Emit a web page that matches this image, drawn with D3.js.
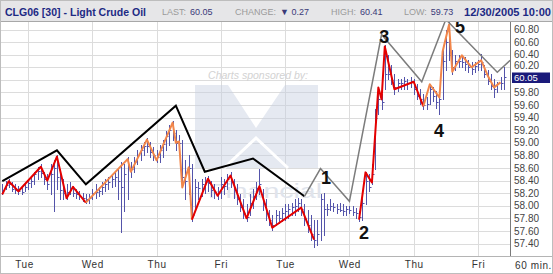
<!DOCTYPE html>
<html>
<head>
<meta charset="utf-8">
<script src="https://cdn.jsdelivr.net/npm/d3@7"></script>
<style>
  body { margin: 0; background: #fff; }
  svg { display: block; font-family: "Liberation Sans", Arial, sans-serif; }
</style>
</head>
<body>
<svg id="chart" width="553" height="274"></svg>
<script>
// day labels and the bar index where each session starts
const days = ['Tue', 'Wed', 'Thu', 'Fri', 'Tue', 'Wed', 'Thu', 'Fri'];
const dayStart = [8, 28, 48, 68, 88, 108, 128, 148];
const yTicks = [60.8, 60.6, 60.4, 60.2, 60.0, 59.8, 59.6, 59.4, 59.2, 59.0,
  58.8, 58.6, 58.4, 58.2, 58.0, 57.8, 57.6, 57.4];
const lastPrice = 60.05;

// 60 min bars
const highs = [
  58.34, 58.39, 58.42, 58.37, 58.34, 58.32, 58.29, 58.35, 58.42, 58.45,
  58.54, 58.61, 58.66, 58.54, 58.50, 58.66, 58.73, 58.80, 58.58, 58.42,
  58.34, 58.37, 58.32, 58.26, 58.23, 58.21, 58.18, 58.18, 58.26, 58.34,
  58.29, 58.37, 58.42, 58.45, 58.50, 58.54, 58.58, 58.70, 58.66, 58.77,
  58.70, 58.77, 58.89, 58.97, 59.02, 59.07, 59.02, 58.93, 58.89, 58.97,
  59.05, 59.18, 59.29, 59.34, 59.21, 59.13, 59.05, 58.73, 58.81, 58.66,
  58.42, 58.37, 58.42, 58.45, 58.48, 58.39, 58.34, 58.29, 58.45, 58.42,
  58.50, 58.53, 58.42, 58.34, 58.18, 58.10, 58.02, 58.18, 58.26, 58.37,
  58.58, 58.26, 58.10, 57.94, 57.86, 57.94, 57.91, 57.97, 58.02, 58.02,
  58.05, 58.10, 58.13, 58.10, 58.02, 57.94, 57.86, 57.78, 57.78, 58.18,
  58.21, 58.02, 58.10, 58.05, 58.02, 58.05, 58.02, 57.99, 58.00, 57.99,
  57.97, 57.91, 58.10, 58.54, 58.50, 58.66, 59.53, 59.88, 59.77, 60.55,
  60.40, 60.24, 60.09, 60.01, 60.01, 60.04, 60.01, 60.04, 60.01, 59.93,
  59.85, 59.77, 59.72, 59.93, 59.88, 59.82, 59.77, 60.48, 60.80, 60.93,
  60.48, 60.40, 60.40, 60.39, 60.36, 60.32, 60.29, 60.29, 60.32, 60.41,
  60.24, 60.16, 60.09, 60.01, 59.97, 60.04, 60.20
];
const lows = [
  58.18, 58.26, 58.29, 58.23, 58.21, 58.19, 58.18, 58.23, 58.26, 58.29,
  58.35, 58.42, 58.45, 58.34, 58.26, 58.18, 57.92, 58.26, 58.10, 58.10,
  58.10, 58.18, 58.16, 58.12, 58.10, 58.07, 58.04, 58.05, 58.10, 58.13,
  58.16, 58.19, 58.23, 58.26, 58.29, 58.32, 58.10, 57.58, 57.91, 58.10,
  58.45, 58.54, 58.66, 58.73, 58.81, 58.86, 58.77, 58.73, 58.69, 58.70,
  58.77, 58.89, 58.97, 59.05, 58.89, 58.89, 58.29, 58.10, 58.18, 57.75,
  57.91, 58.10, 58.16, 58.21, 58.23, 58.16, 58.13, 58.10, 58.13, 58.18,
  58.26, 58.29, 58.13, 58.02, 57.91, 57.81, 57.75, 57.86, 57.97, 58.10,
  58.18, 57.94, 57.78, 57.70, 57.62, 57.69, 57.72, 57.75, 57.78, 57.81,
  57.85, 57.86, 57.91, 57.86, 57.70, 57.59, 57.46, 57.34, 57.38, 57.46,
  57.54, 57.86, 57.94, 57.91, 57.89, 57.91, 57.86, 57.86, 57.88, 57.85,
  57.81, 57.75, 57.78, 58.02, 58.23, 58.34, 58.58, 59.45, 59.53, 59.85,
  60.01, 59.93, 59.77, 59.82, 59.85, 59.85, 59.85, 59.88, 59.77, 59.69,
  59.61, 59.53, 59.53, 59.61, 59.66, 59.56, 59.45, 59.69, 60.16, 60.32,
  60.09, 60.16, 60.20, 60.20, 60.16, 60.13, 60.09, 60.13, 60.16, 60.16,
  60.04, 59.93, 59.85, 59.73, 59.80, 59.85, 59.85
];
const closes = [
  58.25, 58.33, 58.34, 58.27, 58.25, 58.24, 58.22, 58.30, 58.36, 58.40,
  58.50, 58.55, 58.52, 58.42, 58.35, 58.50, 58.60, 58.45, 58.25, 58.20,
  58.22, 58.28, 58.20, 58.18, 58.15, 58.12, 58.10, 58.12, 58.20, 58.22,
  58.24, 58.30, 58.34, 58.38, 58.42, 58.46, 58.40, 58.30, 58.50, 58.60,
  58.58, 58.70, 58.80, 58.88, 58.95, 58.95, 58.85, 58.80, 58.78, 58.88,
  58.98, 59.10, 59.20, 59.15, 59.00, 59.00, 58.45, 58.40, 58.60, 57.85,
  58.30, 58.28, 58.34, 58.38, 58.36, 58.25, 58.22, 58.20, 58.35, 58.32,
  58.42, 58.40, 58.25, 58.10, 57.98, 57.88, 57.82, 58.05, 58.15, 58.28,
  58.35, 58.05, 57.88, 57.78, 57.70, 57.85, 57.80, 57.88, 57.92, 57.95,
  57.98, 58.00, 58.04, 57.95, 57.80, 57.70, 57.55, 57.45, 57.55, 58.10,
  57.95, 57.95, 58.00, 57.98, 57.95, 57.94, 57.92, 57.95, 57.93, 57.90,
  57.88, 57.82, 58.05, 58.40, 58.30, 58.50, 59.40, 59.70, 59.65, 60.10,
  60.10, 60.00, 59.88, 59.95, 59.95, 59.98, 59.95, 59.98, 59.85, 59.75,
  59.70, 59.60, 59.62, 59.85, 59.75, 59.65, 59.70, 60.30, 60.60, 60.40,
  60.20, 60.30, 60.30, 60.28, 60.25, 60.20, 60.18, 60.22, 60.25, 60.28,
  60.10, 59.98, 59.90, 59.85, 59.95, 59.95, 60.05
];

// zigzag pivots [bar index, price]
const zigRedA = [[0, 58.18], [2, 58.39], [5, 58.23], [12, 58.62], [14, 58.40], [17, 58.78], [20, 58.12], [22, 58.30], [26, 58.05]];
const zigOrangeB = [[26, 58.05], [39, 58.74], [40, 58.54], [45, 59.05], [48, 58.72], [53, 59.32], [54, 59.00], [55, 59.02], [56, 58.29], [58, 58.61], [59, 57.78]];
const zigRedC = [[59, 57.78], [64, 58.43], [67, 58.16], [71, 58.48], [76, 57.80], [80, 58.31], [84, 57.65], [93, 57.97], [97, 57.46]];
const zigRedD = [[111, 57.78], [113, 58.53], [115, 58.37], [117, 59.88], [118, 59.69], [119, 60.53], [122, 59.85], [128, 59.97], [131, 59.58]];
const zigOrangeE = [[131, 59.58], [133, 59.93], [136, 59.72], [137, 60.45], [139, 60.88], [140, 60.13], [143, 60.39], [146, 60.20], [149, 60.31], [151, 60.07], [153, 59.88], [155, 59.96]];

// wave lines
const waveBlack = [[0, 58.39], [17, 58.88], [26, 58.34], [54, 59.59], [63, 58.54], [78, 58.75], [94, 58.15]];
const waveGray = [[94, 58.15], [99, 58.59], [108, 58.07], [118, 60.72], [130.5, 59.97], [138, 60.96], [154, 60.12], [158, 60.31]];
const waveNames = ['1', '2', '3', '4', '5'];
const waveNameAt = [[100.7, 58.45], [112.5, 57.58], [118.8, 60.69], [135.9, 59.20], [142.4, 60.85]];

const plot = { left: 1, right: 510, top: 22, bottom: 256 };

const svg = d3.select('#chart');

const x = d3.scaleLinear().domain([dayStart[0], dayStart[7]]).range([28, 478]);
const y = d3.scaleLinear().domain([57.4, 60.8]).range([243.5, 29.5]);
const crisp = v => Math.round(v) + 0.5;

svg.append('rect').attr('width', 553).attr('height', 274).attr('fill', '#fff');

svg.append('clipPath').attr('id', 'plotClip')
  .append('rect')
  .attr('x', plot.left).attr('y', plot.top)
  .attr('width', plot.right - plot.left).attr('height', plot.bottom - plot.top);

// grid
const grid = svg.append('g').attr('stroke', '#dcdcdc').attr('stroke-width', 1);
grid.selectAll('.hg').data(yTicks).enter().append('line')
  .attr('x1', plot.left).attr('x2', plot.right)
  .attr('y1', d => crisp(y(d))).attr('y2', d => crisp(y(d)));
grid.selectAll('.vg').data(dayStart).enter().append('line')
  .attr('x1', d => crisp(x(d))).attr('x2', d => crisp(x(d)))
  .attr('y1', plot.top).attr('y2', plot.bottom);

// sponsor watermark
const wm = svg.append('g').attr('clip-path', 'url(#plotClip)');
wm.append('text')
  .attr('x', 258).attr('y', 79).attr('text-anchor', 'middle')
  .attr('font-size', 10.5).attr('font-style', 'italic').attr('fill', '#d2d2d2')
  .text('Charts sponsored by:');
wm.append('path')
  .attr('d', 'M195,85 H318 V168 H195 Z M228,85 L256,128 L285,85 Z')
  .attr('fill-rule', 'evenodd').attr('fill', '#c6cfe0').attr('opacity', 0.45);
wm.append('path')
  .attr('d', 'M224,168 L256,138 L288,168')
  .attr('fill', 'none').attr('stroke', '#fff').attr('stroke-width', 3);
wm.append('text')
  .attr('x', 208).attr('y', 198)
  .attr('font-size', 21).attr('fill', '#e0e4ec')
  .attr('textLength', 114).attr('lengthAdjust', 'spacingAndGlyphs')
  .text('Financial');

const layer = svg.append('g').attr('clip-path', 'url(#plotClip)');

// OHLC bars
const bars = layer.append('g').attr('stroke', '#5454aa').attr('stroke-width', 1);
bars.selectAll('.hl').data(highs).enter().append('line')
  .attr('x1', (d, i) => crisp(x(i))).attr('x2', (d, i) => crisp(x(i)))
  .attr('y1', d => Math.round(y(d))).attr('y2', (d, i) => Math.round(y(lows[i])) + 1);
bars.selectAll('.cl').data(closes).enter().append('line')
  .attr('x1', (d, i) => Math.round(x(i)) + 1).attr('x2', (d, i) => Math.round(x(i)) + 2.5)
  .attr('y1', d => crisp(y(d))).attr('y2', d => crisp(y(d)));

const line = d3.line().x(d => x(d[0])).y(d => y(d[1]));

const zig = [
  [zigRedA, '#e40000'], [zigOrangeB, '#f2864a'], [zigRedC, '#e40000'],
  [zigRedD, '#e40000'], [zigOrangeE, '#f2864a']
];
layer.selectAll('.zig').data(zig).enter().append('path')
  .attr('d', d => line(d[0]))
  .attr('fill', 'none').attr('stroke', d => d[1]).attr('stroke-width', 2)
  .attr('stroke-linejoin', 'round');

layer.append('path').attr('d', line(waveBlack))
  .attr('fill', 'none').attr('stroke', '#000').attr('stroke-width', 2);
layer.append('path').attr('d', line(waveGray))
  .attr('fill', 'none').attr('stroke', '#7c7c7c').attr('stroke-width', 1.5);

layer.selectAll('.wn').data(waveNames).enter().append('text')
  .attr('x', (d, i) => x(waveNameAt[i][0]))
  .attr('y', (d, i) => y(waveNameAt[i][1]) + 6.5)
  .attr('text-anchor', 'middle')
  .attr('font-size', 18).attr('font-weight', 'bold').attr('fill', '#111')
  .text(d => d);

// header band
svg.append('rect').attr('x', 0).attr('y', 0).attr('width', 553).attr('height', 22)
  .attr('fill', '#e6e6e8');
svg.append('line').attr('x1', 0).attr('x2', 553).attr('y1', 21.5).attr('y2', 21.5)
  .attr('stroke', '#a8a8a8');

const header = svg.append('g');
header.append('text').attr('x', 5).attr('y', 15.5)
  .attr('font-size', 11.5).attr('font-weight', 'bold').attr('fill', '#1d2a84')
  .attr('textLength', 141).attr('lengthAdjust', 'spacingAndGlyphs')
  .text('CLG06 [30] - Light Crude Oil');

// label / value pairs, value placed right after its label
const stats = [
  { label: 'LAST:', value: '60.05', x: 162 },
  { label: 'CHANGE:', value: '\u25BC 0.27', x: 235 },
  { label: 'HIGH:', value: '60.41', x: 331 },
  { label: 'LOW:', value: '59.73', x: 404 }
];
stats.forEach(s => {
  const lab = header.append('text').attr('x', s.x).attr('y', 15)
    .attr('font-size', 9).attr('fill', '#9a9a9a').text(s.label);
  const w = lab.node().getComputedTextLength();
  header.append('text').attr('x', s.x + w + 4).attr('y', 15)
    .attr('font-size', 9).attr('fill', '#3a3a78').text(s.value);
});

header.append('text').attr('x', 464).attr('y', 15.5)
  .attr('font-size', 11.5).attr('font-weight', 'bold').attr('fill', '#1d2a84')
  .attr('textLength', 87).attr('lengthAdjust', 'spacingAndGlyphs')
  .text('12/30/2005 10:00');

// axes
const yAxis = d3.axisRight(y)
  .tickValues(yTicks.filter(v => Math.abs(v - 60.0) > 0.01))
  .tickSize(0).tickPadding(4)
  .tickFormat(d3.format('.2f'));
const gy = svg.append('g').attr('transform', `translate(${plot.right},0)`).call(yAxis);
gy.select('.domain').remove();
gy.attr('font-family', '"Liberation Sans", Arial, sans-serif').attr('font-size', 10);
gy.selectAll('text').attr('fill', '#444')
  .attr('dy', d => (Math.abs(d - 60.2) < 0.01 ? '0.15em' : '0.32em'));

// last price marker
const lp = svg.append('g');
lp.append('rect').attr('x', 512).attr('y', Math.round(y(lastPrice)) - 4.5)
  .attr('width', 38).attr('height', 10.5).attr('fill', '#1a1a7a');
lp.append('text').attr('x', 514).attr('y', y(lastPrice) + 0.8).attr('dy', '0.34em')
  .attr('font-size', 9.5).attr('fill', '#fff').text(d3.format('.2f')(lastPrice));

const xAxis = d3.axisBottom(x)
  .tickValues(dayStart)
  .tickFormat((d, i) => days[i])
  .tickSize(0).tickPadding(5);
const gx = svg.append('g').attr('transform', `translate(0,${plot.bottom})`).call(xAxis);
gx.select('.domain').remove();
gx.attr('font-family', '"Liberation Sans", Arial, sans-serif').attr('font-size', 10);
gx.selectAll('text').attr('fill', '#333').attr('letter-spacing', 0.6)
  .attr('dx', (d, i) => (i === 0 ? -4 : 0));

svg.append('text').attr('x', 515).attr('y', 268.5)
  .attr('font-size', 10).attr('fill', '#333').attr('letter-spacing', 0.6)
  .text('60 min.');

// frame lines
svg.append('line').attr('x1', 0).attr('x2', 553)
  .attr('y1', plot.bottom + 0.5).attr('y2', plot.bottom + 0.5).attr('stroke', '#b4b4b4');
svg.append('line').attr('x1', plot.right + 0.5).attr('x2', plot.right + 0.5)
  .attr('y1', plot.top).attr('y2', plot.bottom).attr('stroke', '#7a7a7a');
svg.append('rect').attr('x', 0.5).attr('y', 0.5).attr('width', 552).attr('height', 273)
  .attr('fill', 'none').attr('stroke', '#bdbdbd');
</script>
</body>
</html>
